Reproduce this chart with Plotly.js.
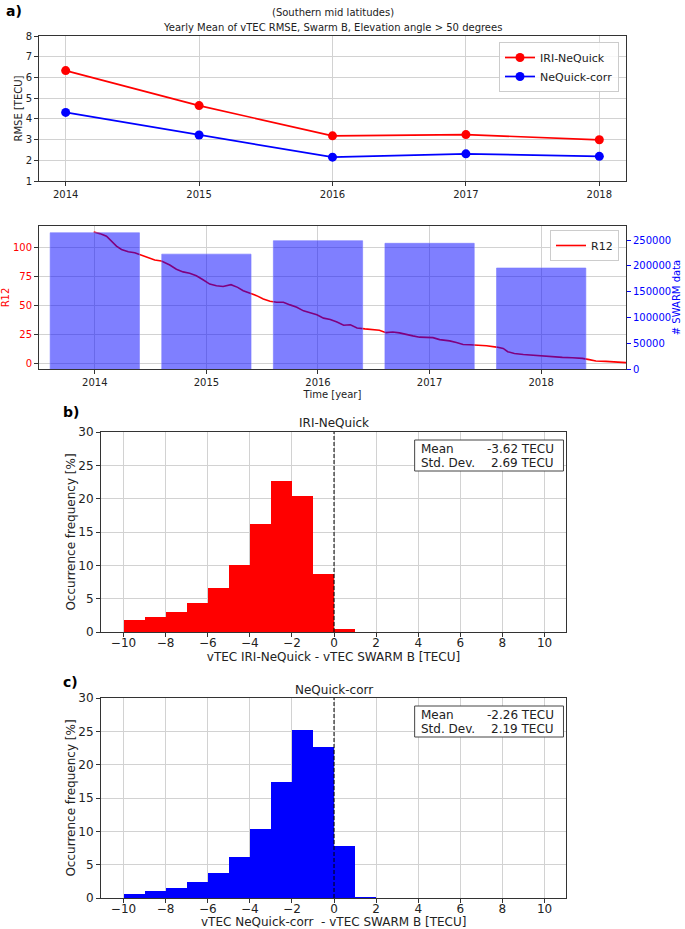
<!DOCTYPE html>
<html>
<head>
<meta charset="utf-8">
<script src="https://cdn.plot.ly/plotly-3.0.1.min.js"></script>
<style>html,body{margin:0;padding:0;background:#fff}#chart{width:685px;height:929px}</style>
</head>
<body>
<div id="chart"></div>
<script>
// ---------- DATA ----------
const years = [2014, 2015, 2016, 2017, 2018];
const rmseIriNeQuick = [6.33, 4.64, 3.18, 3.24, 2.99];
const rmseNeQuickCorr = [4.31, 3.22, 2.15, 2.31, 2.19];

const swarmCounts = [264500, 223000, 249000, 244000, 196000];

const r12Time = [2013.99, 2014.045, 2014.105, 2014.15, 2014.194, 2014.239, 2014.30, 2014.358, 2014.418, 2014.477,
  2014.537, 2014.597, 2014.672, 2014.731, 2014.791, 2014.85, 2014.91, 2014.97, 2015.03, 2015.09,
  2015.15, 2015.22, 2015.28, 2015.33, 2015.39, 2015.45, 2015.51, 2015.57, 2015.63, 2015.69,
  2015.75, 2015.81, 2015.87, 2015.93, 2015.99, 2016.05, 2016.11, 2016.17, 2016.23, 2016.29,
  2016.35, 2016.42, 2016.49, 2016.55, 2016.61, 2016.67, 2016.73, 2016.79, 2016.85, 2016.91,
  2016.97, 2017.03, 2017.09, 2017.18, 2017.24, 2017.30, 2017.36, 2017.42, 2017.51, 2017.60,
  2017.66, 2017.70, 2017.76, 2017.84, 2017.93, 2018.02, 2018.11, 2018.19, 2018.28, 2018.37,
  2018.43, 2018.49, 2018.58, 2018.67, 2018.76];
const r12Values = [113.8, 112.4, 110.1, 105.8, 101.5, 98.6, 96.7, 95.8, 93.8, 92.1,
  89.5, 88.7, 85.2, 81.5, 79.2, 78.0, 75.8, 72.4, 68.6, 67.2,
  66.6, 68.1, 65.8, 62.9, 60.9, 58.6, 55.7, 53.7, 52.9, 52.9,
  50.6, 48.6, 45.4, 43.7, 42.0, 39.1, 38.0, 35.7, 32.9, 33.4,
  30.6, 29.8, 29.4, 28.6, 26.5, 27.1, 26.3, 24.8, 23.7, 22.6,
  22.2, 22.2, 20.5, 19.4, 17.9, 16.2, 16.0, 15.7, 15.1, 14.0,
  12.8, 10.0, 8.5, 7.6, 6.8, 6.3, 5.7, 5.1, 4.8, 4.2,
  3.1, 2.0, 1.6, 1.1, 0.5];

const binLeft = [-10, -9, -8, -7, -6, -5, -4, -3, -2, -1, 0, 1, 2, 3, 4, 5, 6, 7, 8, 9];
const freqIriNeQuick = [1.75, 2.25, 3.05, 4.4, 6.6, 10.0, 16.25, 22.65, 20.35, 8.65, 0.4, 0, 0, 0, 0, 0, 0, 0, 0, 0];
const freqNeQuickCorr = [0.6, 1.0, 1.5, 2.4, 3.75, 6.2, 10.3, 17.45, 25.2, 22.6, 7.85, 0.2, 0, 0, 0, 0, 0, 0, 0, 0];

const statsLabels = ["Mean", "Std. Dev."];
const statsIriNeQuick = ["-3.62 TECU", "2.69 TECU"];
const statsNeQuickCorr = ["-2.26 TECU", "2.19 TECU"];

const titleLines = ["(Southern mid latitudes)", "Yearly Mean of vTEC RMSE, Swarm B, Elevation angle > 50 degrees"];
const yearTicks = years;
const r12Ticks = [0, 25, 50, 75, 100];
const swarmTicks = [0, 50000, 100000, 150000, 200000, 250000];
const histXTicks = [-10, -8, -6, -4, -2, 0, 2, 4, 6, 8, 10];
const histYTicks = [0, 5, 10, 15, 20, 25, 30];

// ---------- STYLE ----------
const FONT = "DejaVu Sans";
const W = 685, H = 929;
const px = v => v / W;
const py = v => 1 - v / H;
const GRID = "#d2d2d2";
const LINE = "#333333";

function baseAxis(extra) {
  return Object.assign({
    showgrid: true, gridcolor: GRID, gridwidth: 1,
    showline: true, mirror: true, linecolor: LINE, linewidth: 1,
    ticks: "outside", ticklen: 4, tickcolor: LINE,
    zeroline: false, automargin: false,
    tickfont: {family: FONT, size: 10, color: "#222"}
  }, extra);
}

const traces = [
  {x: years, y: rmseIriNeQuick, type: "scatter", mode: "lines+markers", name: "IRI-NeQuick",
   line: {color: "#ff0000", width: 1.7}, marker: {color: "#ff0000", size: 9},
   xaxis: "x", yaxis: "y", legend: "legend"},
  {x: years, y: rmseNeQuickCorr, type: "scatter", mode: "lines+markers", name: "NeQuick-corr",
   line: {color: "#0000ff", width: 1.7}, marker: {color: "#0000ff", size: 9},
   xaxis: "x", yaxis: "y", legend: "legend"},
  {x: r12Time, y: r12Values, type: "scatter", mode: "lines", name: "R12",
   line: {color: "#ff0000", width: 1.6}, xaxis: "x2", yaxis: "y2", legend: "legend2"},
  {x: years, y: swarmCounts, type: "bar", width: 0.8, showlegend: false,
   marker: {color: "rgba(0,0,255,0.5)", line: {color: "rgba(120,120,255,0.6)", width: 1}},
   xaxis: "x2", yaxis: "y3"},
  {x: binLeft, y: freqIriNeQuick, type: "bar", width: 1, offset: 0, showlegend: false,
   marker: {color: "#ff0000", line: {width: 0}}, xaxis: "x3", yaxis: "y4"},
  {x: binLeft, y: freqNeQuickCorr, type: "bar", width: 1, offset: 0, showlegend: false,
   marker: {color: "#0000ff", line: {width: 0}}, xaxis: "x4", yaxis: "y5"}
];

const histFont = {family: FONT, size: 12, color: "#222"};
const smallFont = {family: FONT, size: 10, color: "#222"};

const layout = {
  width: W, height: H,
  margin: {l: 0, r: 0, t: 0, b: 0},
  paper_bgcolor: "#fff", plot_bgcolor: "#fff",
  font: {family: FONT, size: 10, color: "#222"},
  bargap: 0,
  xaxis: baseAxis({domain: [px(39), px(626)], anchor: "y", range: [2013.8, 2018.2],
                   tickvals: yearTicks, tickformat: "d"}),
  yaxis: baseAxis({domain: [py(181), py(36)], anchor: "x", range: [1, 8], tickvals: [1,2,3,4,5,6,7,8],
                   title: {text: "RMSE [TECU]", font: smallFont, standoff: 1}}),
  xaxis2: baseAxis({domain: [px(39), px(626)], anchor: "y2", range: [2013.5, 2018.76],
                    tickvals: yearTicks, tickformat: "d",
                    title: {text: "Time [year]", font: smallFont, standoff: 3}}),
  yaxis2: baseAxis({domain: [py(369), py(226)], anchor: "x2", range: [-5, 119], tickvals: r12Ticks,
                    tickfont: {family: FONT, size: 10, color: "#ff0000"},
                    title: {text: "R12", font: {family: FONT, size: 10, color: "#ff0000"}, standoff: 3}}),
  yaxis3: {overlaying: "y2", side: "right", anchor: "x2", range: [0, 277600], tickvals: swarmTicks,
           tickformat: "d", showgrid: false, zeroline: false, showline: false,
           ticks: "outside", ticklen: 4, tickcolor: "#0000ff", automargin: false,
           tickfont: {family: FONT, size: 10, color: "#0000ff"},
           title: {text: "# SWARM data", font: {family: FONT, size: 10, color: "#0000ff"}, standoff: 0}},
  xaxis3: baseAxis({domain: [px(101), px(566)], anchor: "y4", range: [-11.07, 11.02], tickvals: histXTicks,
                    tickfont: histFont, ticklabelstandoff: -4,
                    title: {text: "vTEC IRI-NeQuick - vTEC SWARM B [TECU]", font: histFont, standoff: 1}}),
  yaxis4: baseAxis({domain: [py(632), py(432)], anchor: "x3", range: [0, 30], tickvals: histYTicks,
                    tickfont: histFont,
                    title: {text: "Occurrence frequency [%]", font: histFont, standoff: 0}}),
  xaxis4: baseAxis({domain: [px(101), px(566)], anchor: "y5", range: [-11.07, 11.02], tickvals: histXTicks,
                    tickfont: histFont, ticklabelstandoff: -4}),
  yaxis5: baseAxis({domain: [py(898), py(698)], anchor: "x4", range: [0, 30], tickvals: histYTicks,
                    tickfont: histFont,
                    title: {text: "Occurrence frequency [%]", font: histFont, standoff: 0}}),
  legend: {x: px(619), xanchor: "right", y: py(42), yanchor: "top", bgcolor: "rgba(255,255,255,0.85)",
           bordercolor: "#cccccc", borderwidth: 1, font: {family: FONT, size: 11, color: "#222"},
           tracegroupgap: 0, itemwidth: 30},
  legend2: {x: px(619), xanchor: "right", y: py(230), yanchor: "top", bgcolor: "rgba(255,255,255,0.85)",
            bordercolor: "#cccccc", borderwidth: 1, font: {family: FONT, size: 11, color: "#222"}, itemwidth: 30},
  shapes: [
    {type: "line", xref: "x3", yref: "y4", x0: 0, x1: 0, y0: 0, y1: 30, line: {color: "#000", width: 1, dash: "4px,2px"}},
    {type: "line", xref: "x4", yref: "y5", x0: 0, x1: 0, y0: 0, y1: 30, line: {color: "#000", width: 1, dash: "4px,2px"}},
    {type: "rect", xref: "x3", yref: "y4", x0: 3.83, x1: 10.9, y0: 24.15, y1: 28.8, fillcolor: "#fff", line: {color: "#444", width: 1}},
    {type: "rect", xref: "x4", yref: "y5", x0: 3.83, x1: 10.9, y0: 24.15, y1: 28.8, fillcolor: "#fff", line: {color: "#444", width: 1}}
  ],
  annotations: [
    {text: titleLines[0], xref: "paper", yref: "paper", x: px(332.5), y: py(13), xanchor: "center", yanchor: "middle",
     showarrow: false, font: smallFont},
    {text: titleLines[1], xref: "paper", yref: "paper", x: px(332.5), y: py(28), xanchor: "center", yanchor: "middle",
     showarrow: false, font: smallFont},
    {text: "<b>a)</b>", xref: "paper", yref: "paper", x: px(4), y: py(11), xanchor: "left", yanchor: "middle",
     showarrow: false, font: {family: FONT, size: 14, color: "#000"}},
    {text: "<b>b)</b>", xref: "paper", yref: "paper", x: px(61), y: py(412), xanchor: "left", yanchor: "middle",
     showarrow: false, font: {family: FONT, size: 14, color: "#000"}},
    {text: "<b>c)</b>", xref: "paper", yref: "paper", x: px(61), y: py(682), xanchor: "left", yanchor: "middle",
     showarrow: false, font: {family: FONT, size: 14, color: "#000"}},
    {text: "IRI-NeQuick", xref: "paper", yref: "paper", x: px(333.5), y: py(423), xanchor: "center", yanchor: "middle",
     showarrow: false, font: histFont},
    {text: "NeQuick-corr", xref: "paper", yref: "paper", x: px(333.5), y: py(690), xanchor: "center", yanchor: "middle",
     showarrow: false, font: histFont},
    {text: "vTEC NeQuick-corr \u00a0- vTEC SWARM B [TECU]", xref: "paper", yref: "paper", x: px(333.5), y: py(922),
     xanchor: "center", yanchor: "middle", showarrow: false, font: histFont}
  ]
};

const statYs = [27.45, 25.4];
[["x3", "y4", statsIriNeQuick], ["x4", "y5", statsNeQuickCorr]].forEach(([xr, yr, vals]) => {
  statsLabels.forEach((lab, i) => {
    layout.annotations.push({text: lab, xref: xr, yref: yr, x: 4.02, y: statYs[i], xanchor: "left", yanchor: "middle",
      showarrow: false, font: histFont});
    layout.annotations.push({text: vals[i], xref: xr, yref: yr, x: 10.55, y: statYs[i], xanchor: "right", yanchor: "middle",
      showarrow: false, font: histFont});
  });
});

Plotly.newPlot("chart", traces, layout, {staticPlot: true, displayModeBar: false});
</script>
</body>
</html>
